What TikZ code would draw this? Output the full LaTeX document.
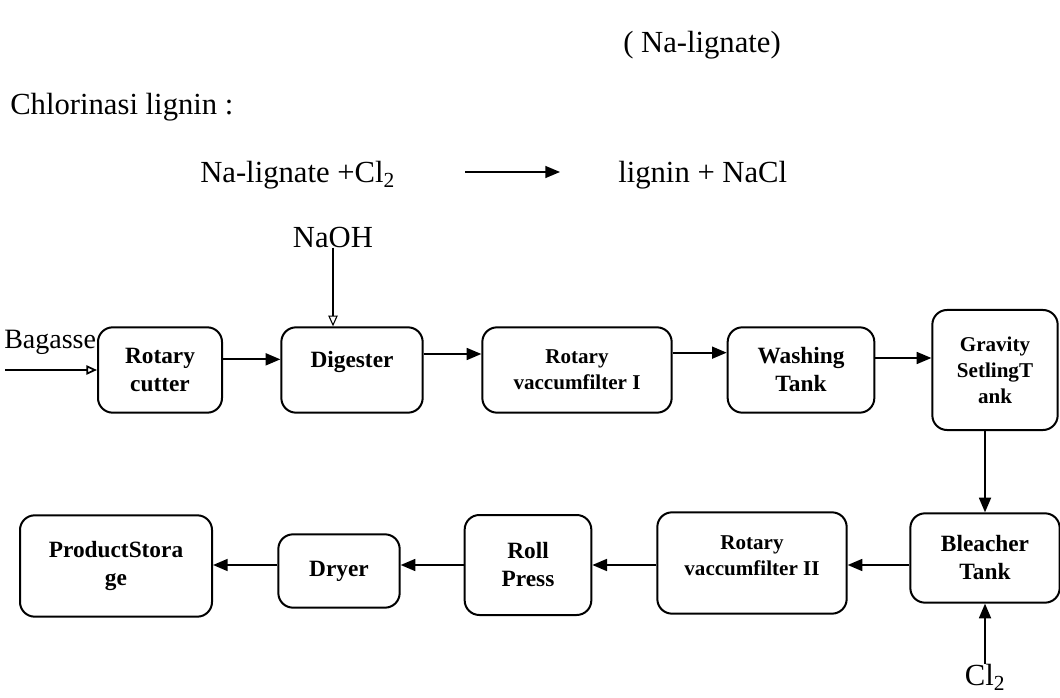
\documentclass[tikz,border=0pt]{standalone}
\usepackage{fontspec}
\setmainfont{Liberation Serif}
\usetikzlibrary{arrows.meta}

\begin{document}
\begin{tikzpicture}[x=0.75pt,y=-0.75pt,
    procbox/.style={draw, line width=1.5pt, rounded corners=11pt, align=center, inner sep=2pt,
        font=\bfseries\fontsize{17.5}{21}\selectfont},
    smalltext/.style={font=\bfseries\fontsize{15.8}{19.5}\selectfont},
    txt/.style={inner sep=0pt, font=\fontsize{23}{27}\selectfont},
    flow/.style={line width=1.3pt, -{Triangle[length=11pt,width=9pt]}},
    feed/.style={line width=1.3pt, -{Triangle[open,length=8pt,width=7pt]}}]
    \useasboundingbox (0,0) rectangle (1060,698);
    % reaction text
    \node[txt] (nalig) at (702,45) {( Na-lignate)};
    \node[txt, anchor=west] (chlor) at (10,107) {Chlorinasi lignin :};
    \node[txt, anchor=west] (eqleft) at (200,175) {Na-lignate +Cl\textsubscript{2}};
    \node[txt, anchor=west] (eqright) at (618,175) {lignin + NaCl};
    \coordinate (eqa) at (465,172);
    \coordinate (eqb) at (560,172);
    \draw[flow, line width=1pt] (eqa) -- (eqb);
    % top row
    \node[procbox, minimum width=93pt, minimum height=64pt] (cutter) at (160,370) {Rotary\\cutter};
    \node[procbox, minimum width=106pt, minimum height=64pt, text depth=16pt] (digester) at (352,370) {Digester};
    \node[procbox, smalltext, minimum width=142pt, minimum height=64pt] (rvf1) at (577,370) {Rotary\\vaccumfilter I};
    \node[procbox, minimum width=110pt, minimum height=64pt] (washing) at (801,370) {Washing\\Tank};
    \node[procbox, smalltext, minimum width=94pt, minimum height=90pt] (gravity) at (995,370) {Gravity\\SetlingT\\ank};
    % bottom row
    \node[procbox, minimum width=112pt, minimum height=67pt] (bleacher) at (985,558) {Bleacher\\Tank};
    \node[procbox, smalltext, minimum width=142pt, minimum height=76pt] (rvf2) at (752,563) {Rotary\\vaccumfilter II\\[-8pt]\rule{0pt}{0pt}};
    \node[procbox, minimum width=95pt, minimum height=75pt] (roll) at (528,565) {Roll\\Press};
    \node[procbox, minimum width=91pt, minimum height=55pt] (dryer) at (339,571) {Dryer};
    \node[procbox, minimum width=144pt, minimum height=76pt] (storage) at (116,566) {ProductStora\\ge};
    % feeds
    \node[txt, anchor=west, font=\fontsize{21}{25}\selectfont] (bagasse) at (4,342) {Bagasse};
    \coordinate (bagin) at (5,370);
    \draw[feed] (bagin) -- (bagin -| cutter.west);
    \node[txt] (naoh) at (333,237) {NaOH};
    \draw[feed, line width=0.8pt] (naoh.south) -- (naoh.south |- digester.north);
    \node[txt] (cl) at (985,677) {Cl\textsubscript{2}};
    % connectors
    \draw[flow] ([yshift=8pt]cutter.east) -- ([yshift=8pt]digester.west);
    \draw[flow] ([yshift=12pt]digester.east) -- ([yshift=12pt]rvf1.west);
    \draw[flow] ([yshift=13pt]rvf1.east) -- ([yshift=13pt]washing.west);
    \draw[flow] ([yshift=9pt]washing.east) -- ([yshift=9pt]gravity.west);
    \draw[flow] (bleacher |- gravity.south) -- (bleacher.north);
    \draw[flow] (cl.north) -- (bleacher.south);
    \draw[flow] (bleacher.west |- roll) -- (rvf2.east |- roll);
    \draw[flow] (rvf2.west |- roll) -- (roll.east);
    \draw[flow] (roll.west) -- (dryer.east |- roll);
    \draw[flow] (dryer.west |- roll) -- (storage.east |- roll);
\end{tikzpicture}
\end{document}
